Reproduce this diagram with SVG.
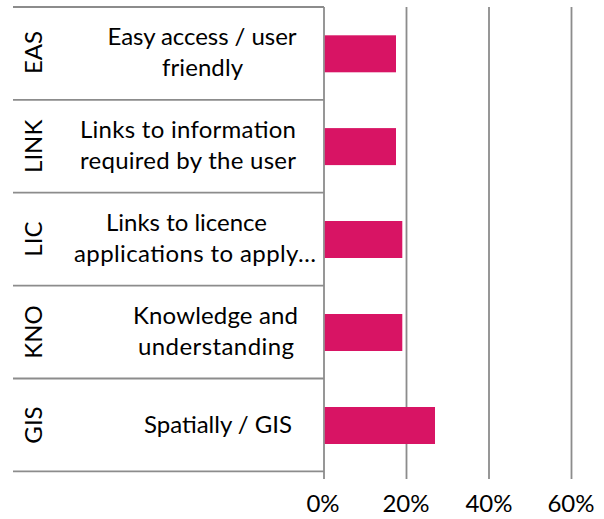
<svg xmlns="http://www.w3.org/2000/svg" width="604" height="519" viewBox="0 0 604 519">
<style>
.t{font-family:Lato,"Liberation Sans",sans-serif;font-size:24px;fill:#000;text-anchor:middle}
.g{stroke:#8c8c8c;stroke-width:1.8;fill:none}
.bar{fill:#d81464}
</style>
<rect width="604" height="519" fill="#fff"/>
<g id="grid">
<line class="g" x1="406.5" y1="7" x2="406.5" y2="479"/>
<line class="g" x1="489" y1="7" x2="489" y2="479"/>
<line class="g" x1="571.5" y1="7" x2="571.5" y2="479"/>
</g>
<g id="connectors">
<path class="g" d="M13 7H324M13 99.8H324M13 192.7H324M13 285.6H324M13 378.5H324M13 471.4H324"/>
<line class="g" x1="324" y1="7" x2="324" y2="479"/>
</g>
<g id="EAS">
<rect class="bar" x="324.8" y="35.3" width="71.2" height="37"/>
<text class="t" transform="translate(41.5,52.5) rotate(-90)">EAS</text>
<text class="t" x="202" y="45" textLength="189">Easy access / user</text>
<text class="t" x="202.5" y="76" textLength="81">friendly</text>
</g>
<g id="LINK">
<rect class="bar" x="324.8" y="128.1" width="71.2" height="37"/>
<text class="t" transform="translate(41.5,146.3) rotate(-90)">LINK</text>
<text class="t" x="188" y="137.9" textLength="216">Links to information</text>
<text class="t" x="188" y="168.9" textLength="216">required by the user</text>
</g>
<g id="LIC">
<rect class="bar" x="324.8" y="221" width="77.5" height="37"/>
<text class="t" transform="translate(41.5,239.1) rotate(-90)">LIC</text>
<text class="t" x="186.5" y="230.7" textLength="161">Links to licence</text>
<text class="t" x="195" y="261.7" textLength="242">applications to apply…</text>
</g>
<g id="KNO">
<rect class="bar" x="324.8" y="314" width="77.5" height="37"/>
<text class="t" transform="translate(41.5,332) rotate(-90)">KNO</text>
<text class="t" x="215.5" y="324" textLength="165">Knowledge and</text>
<text class="t" x="216" y="354.6" textLength="156">understanding</text>
</g>
<g id="GIS">
<rect class="bar" x="324.8" y="407" width="110.2" height="37"/>
<text class="t" transform="translate(41.5,425) rotate(-90)">GIS</text>
<text class="t" x="218" y="433.3" textLength="148">Spatially / GIS</text>
</g>
<g id="axis-labels">
<text class="t" x="323" y="512">0%</text>
<text class="t" x="406" y="512">20%</text>
<text class="t" x="489" y="512">40%</text>
<text class="t" x="571" y="512">60%</text>
</g>
</svg>
